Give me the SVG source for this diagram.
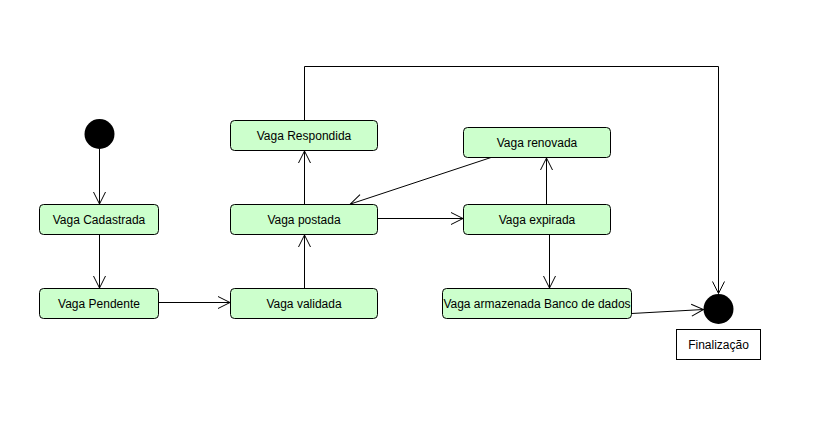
<svg xmlns="http://www.w3.org/2000/svg" width="827" height="437" viewBox="0 0 827 437">
<style>
.state rect{fill:#ccffcc;stroke:#000;stroke-width:1}
text{font-family:"Liberation Sans",Arial,sans-serif;font-size:12px;fill:#000;text-anchor:middle}
.conn line,.conn polyline{stroke:#000;stroke-width:1;fill:none}
.ah{stroke:#000;stroke-width:1;fill:none}
</style>
<defs>
<marker id="arr" viewBox="0 0 14 14" refX="13" refY="7" markerWidth="14" markerHeight="14" markerUnits="userSpaceOnUse" orient="auto">
<polyline points="1,1 13,7 1,13" class="ah"/>
</marker>
</defs>
<rect width="827" height="437" fill="#fff"/>
<g class="conn">
<line x1="99.5" y1="149" x2="99.5" y2="204" marker-end="url(#arr)"/>
<line x1="99.5" y1="234.5" x2="99.5" y2="288" marker-end="url(#arr)"/>
<line x1="158.5" y1="302.5" x2="230" y2="302.5" marker-end="url(#arr)"/>
<line x1="304.5" y1="288.5" x2="304.5" y2="235" marker-end="url(#arr)"/>
<line x1="304.5" y1="204.5" x2="304.5" y2="151" marker-end="url(#arr)"/>
<polyline points="304.5,120.5 304.5,66.5 718.5,66.5 718.5,293.5" marker-end="url(#arr)"/>
<line x1="377.5" y1="218.5" x2="463" y2="218.5" marker-end="url(#arr)"/>
<line x1="491" y1="157.5" x2="350.5" y2="204" marker-end="url(#arr)"/>
<line x1="546.5" y1="204.5" x2="546.5" y2="158" marker-end="url(#arr)"/>
<line x1="549.5" y1="234.5" x2="549.5" y2="288" marker-end="url(#arr)"/>
<line x1="631.5" y1="313.5" x2="703.5" y2="309.5" marker-end="url(#arr)"/>
</g>
<g id="initial"><circle cx="99.5" cy="134" r="15" fill="#000"/></g>
<g id="vaga-cadastrada" class="state"><rect x="39.5" y="204.5" width="119" height="30" rx="4"/><text x="99" y="223.5">Vaga Cadastrada</text></g>
<g id="vaga-pendente" class="state"><rect x="39.5" y="288.5" width="119" height="30" rx="4"/><text x="99" y="307.5">Vaga Pendente</text></g>
<g id="vaga-respondida" class="state"><rect x="230.5" y="120.5" width="147" height="30" rx="4"/><text x="304" y="139.5">Vaga Respondida</text></g>
<g id="vaga-postada" class="state"><rect x="230.5" y="204.5" width="147" height="30" rx="4"/><text x="304" y="223.5">Vaga postada</text></g>
<g id="vaga-validada" class="state"><rect x="230.5" y="288.5" width="147" height="30" rx="4"/><text x="304" y="307.5">Vaga validada</text></g>
<g id="vaga-renovada" class="state"><rect x="463.5" y="127.5" width="147" height="30" rx="4"/><text x="537" y="146.5">Vaga renovada</text></g>
<g id="vaga-expirada" class="state"><rect x="463.5" y="204.5" width="147" height="30" rx="4"/><text x="537" y="223.5">Vaga expirada</text></g>
<g id="vaga-armazenada" class="state"><rect x="442.5" y="288.5" width="189" height="30" rx="4"/><text x="537" y="307.5">Vaga armazenada Banco de dados</text></g>
<g id="final"><circle cx="718.5" cy="309" r="15" fill="#000"/><rect x="676.5" y="329.5" width="84" height="30" fill="#fff" stroke="#000"/><text x="718.5" y="348.5">Finalização</text></g>
</svg>
